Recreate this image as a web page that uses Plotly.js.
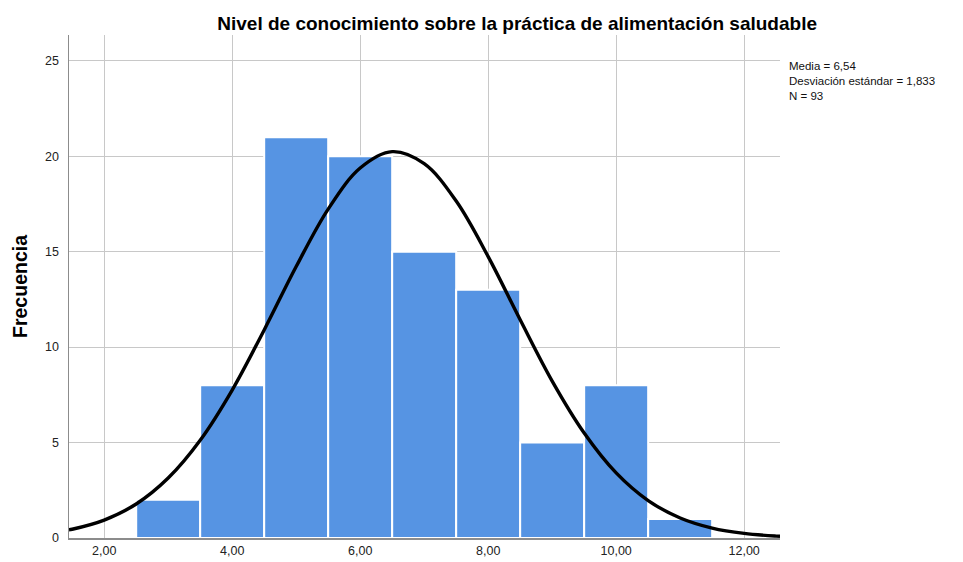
<!DOCTYPE html>
<html>
<head>
<meta charset="utf-8">
<script src="https://cdn.plot.ly/plotly-3.0.1.min.js"></script>
<style>html,body{margin:0;padding:0;background:#fff;}#chart{width:963px;height:562px;}</style>
</head>
<body>
<div id="chart"></div>
<script>
// Histogram bins (centers) and counts
var binCenters = [3, 4, 5, 6, 7, 8, 9, 10, 11];
var counts = [2, 8, 21, 20, 15, 13, 5, 8, 1];

// Normal curve points
var curveX = [1.45, 1.5, 2, 2.5, 3, 3.5, 4, 4.5, 5, 5.5, 6, 6.5, 7, 7.5, 8, 8.5, 9, 9.5, 10, 10.5, 11, 11.5, 12, 12.5, 12.56];
var curveY = [0.43, 0.46, 0.94, 1.78, 3.14, 5.12, 7.75, 10.9, 14.22, 17.23, 19.38, 20.24, 19.61, 17.65, 14.74, 11.43, 8.22, 5.5, 3.41, 1.96, 1.05, 0.52, 0.24, 0.1, 0.09];

// Axis ticks
var xTickVals = [2, 4, 6, 8, 10, 12];
var xTickText = ["2,00", "4,00", "6,00", "8,00", "10,00", "12,00"];
var yTickVals = [0, 5, 10, 15, 20, 25];
var yTickText = ["0", "5", "10", "15", "20", "25"];

var statsLines = ["Media = 6,54", "Desviación estándar = 1,833", "N = 93"];

var traces = [
  {
    type: 'bar',
    x: binCenters,
    y: counts,
    width: 1,
    marker: {color: '#5694e3', line: {color: '#ffffff', width: 2}},
    hoverinfo: 'x+y'
  },
  {
    type: 'scatter',
    mode: 'lines',
    x: curveX,
    y: curveY,
    line: {color: '#000000', width: 3.4, shape: 'spline', smoothing: 1},
    hoverinfo: 'skip'
  }
];

var layout = {
  width: 963,
  height: 562,
  margin: {l: 69, r: 183, t: 35, b: 24},
  paper_bgcolor: '#ffffff',
  plot_bgcolor: '#ffffff',
  showlegend: false,
  font: {family: 'Liberation Sans, Arial, sans-serif', color: '#222'},
  title: {
    text: '<b>Nivel de conocimiento sobre la práctica de alimentación saludable</b>',
    font: {size: 19, color: '#000', family: 'Liberation Sans, Arial, sans-serif'},
    x: 0.537, xref: 'container', xanchor: 'center',
    y: 0.958, yref: 'container', yanchor: 'middle'
  },
  xaxis: {
    range: [1.45, 12.56],
    tickvals: xTickVals,
    ticktext: xTickText,
    showgrid: true,
    gridcolor: '#c8c8c8',
    gridwidth: 1,
    showline: true,
    linecolor: '#8c8c8c',
    linewidth: 1.5,
    zeroline: false,
    ticks: '',
    tickfont: {size: 12.5, color: '#222'},
    fixedrange: true
  },
  yaxis: {
    range: [0, 26.35],
    tickvals: yTickVals,
    ticktext: yTickText,
    showgrid: true,
    gridcolor: '#c8c8c8',
    gridwidth: 1,
    showline: true,
    linecolor: '#8c8c8c',
    linewidth: 1.5,
    zeroline: false,
    ticks: '',
    ticklabelstandoff: 6,
    tickfont: {size: 12.5, color: '#222'},
    title: {text: '<b>Frecuencia</b>', font: {size: 19.5, color: '#000'}, standoff: 12},
    fixedrange: true
  },
  annotations: [
    {
      text: statsLines.join('<br>'),
      xref: 'paper', yref: 'paper',
      x: 1.01, y: 0.9085,
      xanchor: 'left', yanchor: 'middle',
      align: 'left',
      showarrow: false,
      font: {size: 11.5, color: '#111'}
    }
  ],
  bargap: 0
};

Plotly.newPlot('chart', traces, layout, {displayModeBar: false, staticPlot: true});
</script>
</body>
</html>
